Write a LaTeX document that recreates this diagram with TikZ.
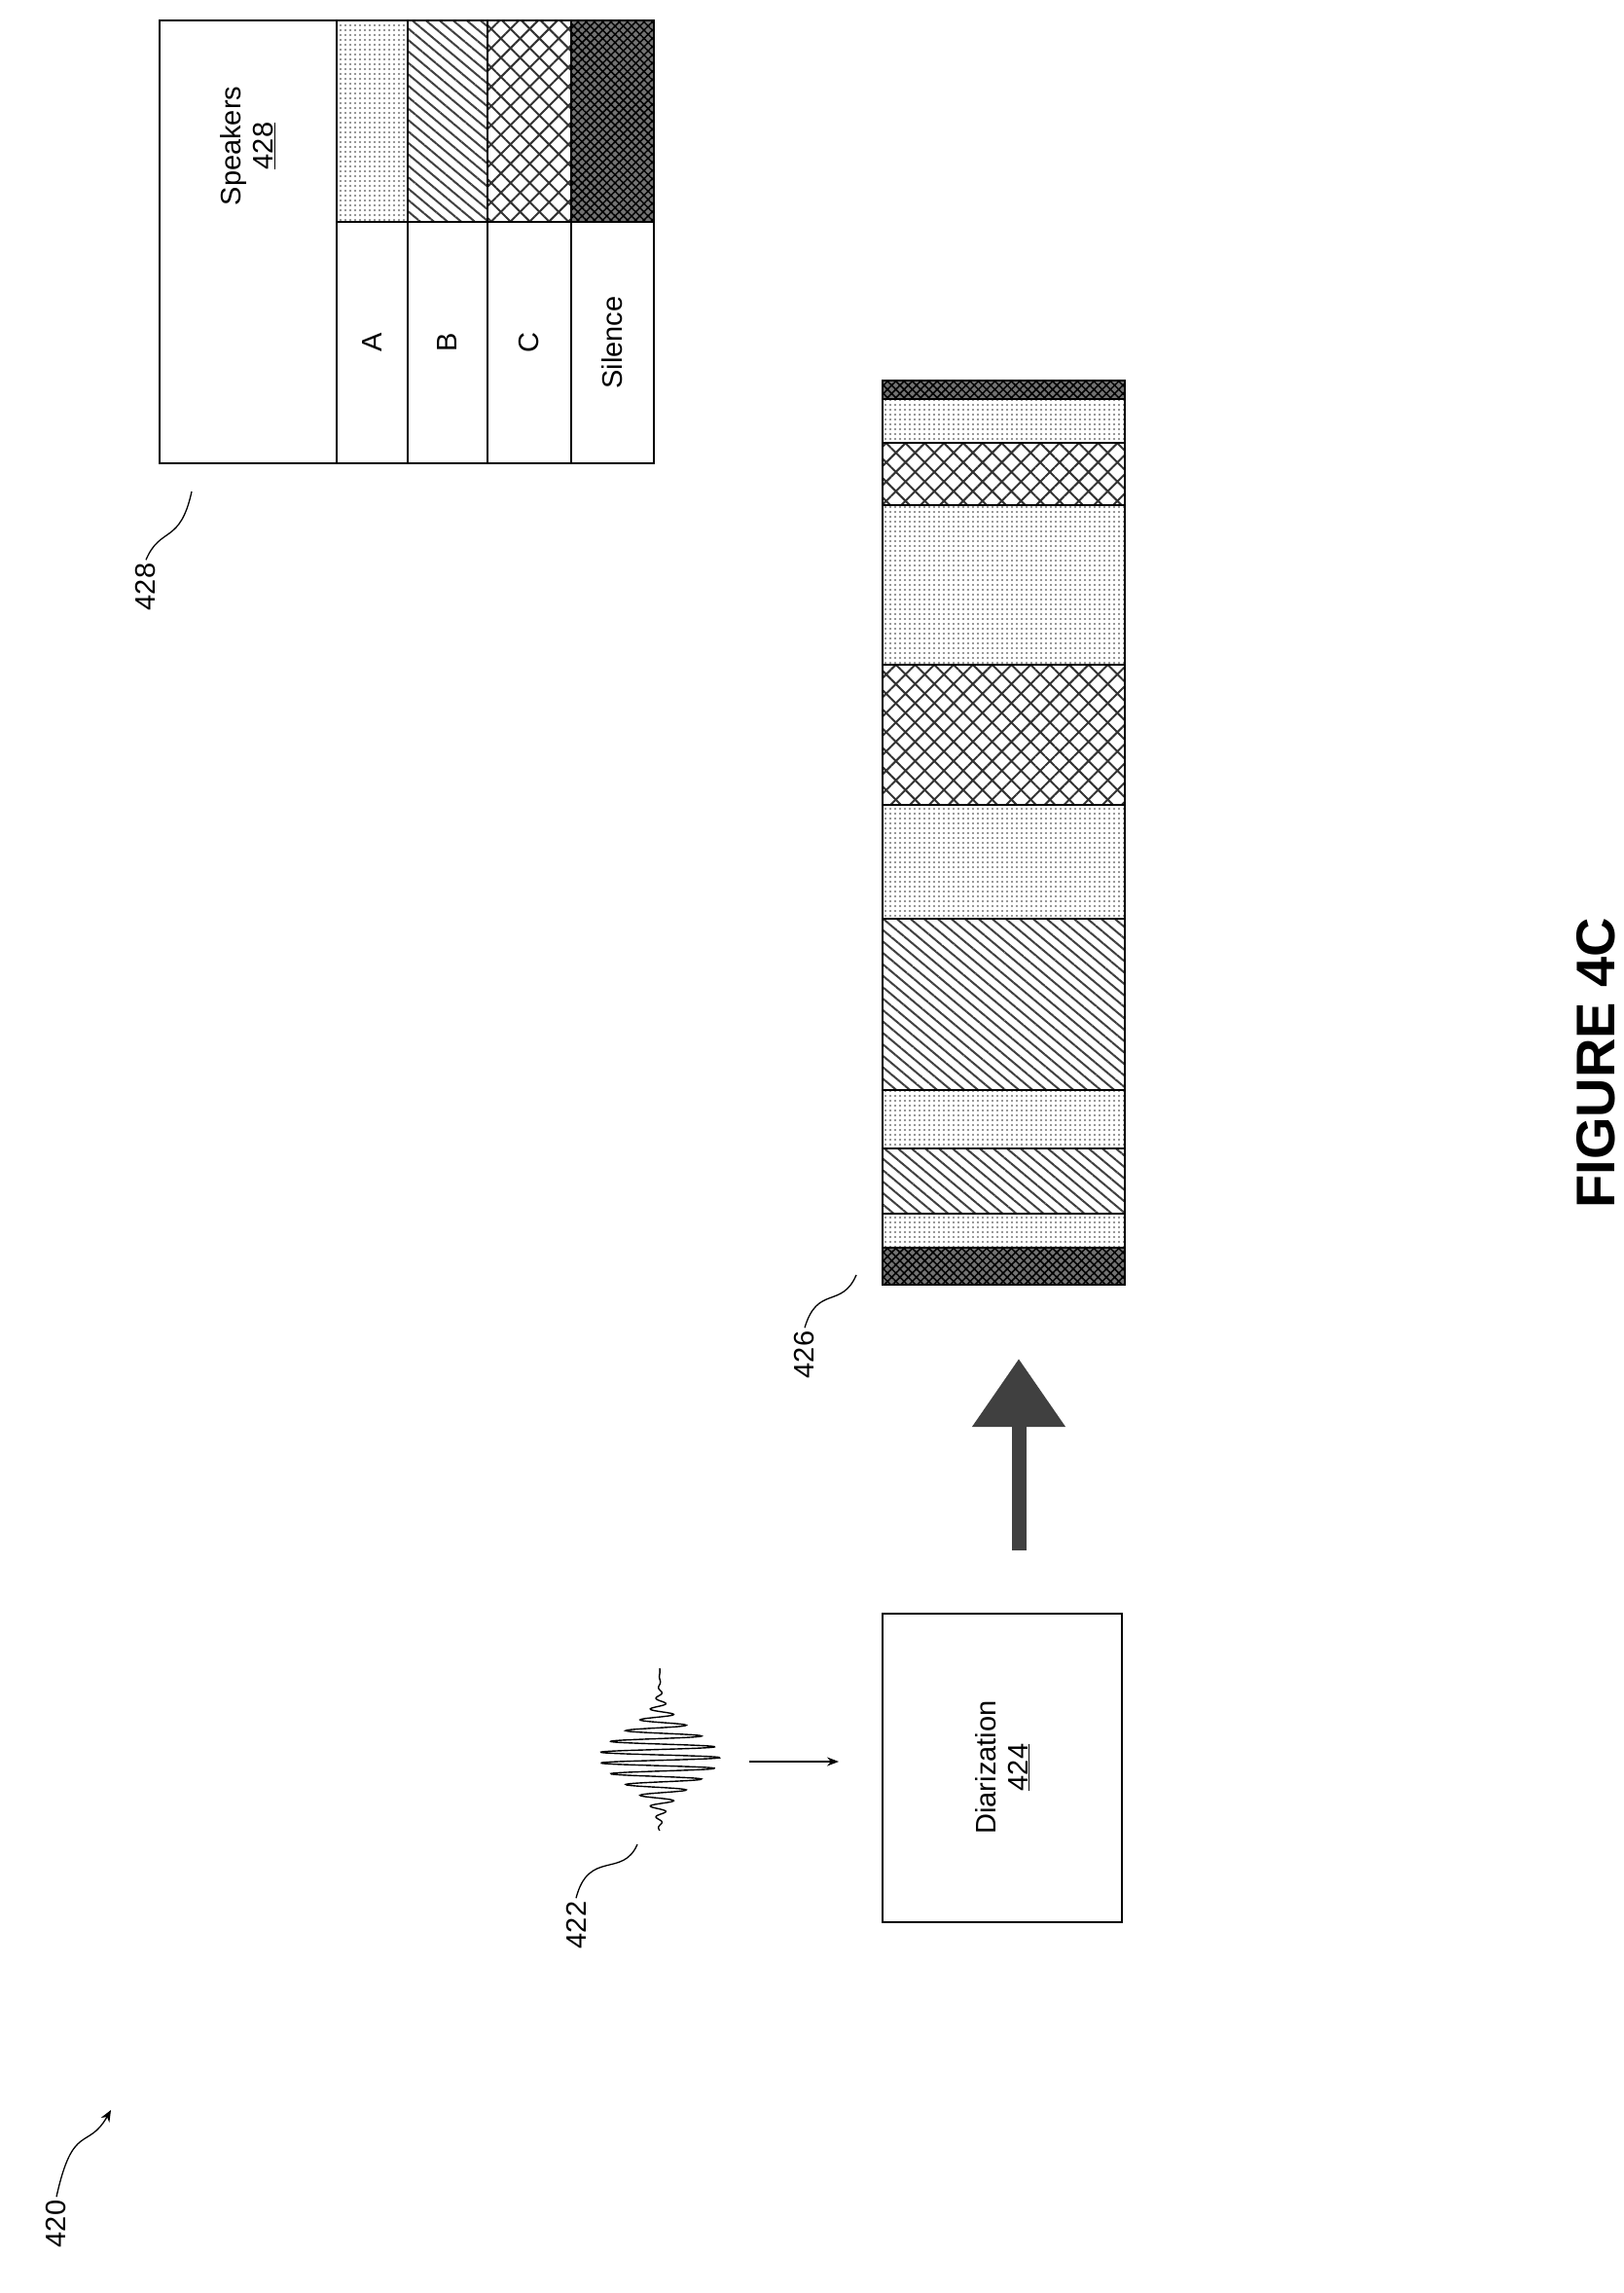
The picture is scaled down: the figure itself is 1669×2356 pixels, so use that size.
\documentclass[tikz,border=0pt]{standalone}
\usepackage{fontspec}
\setmainfont{Liberation Sans}
\usepackage{tikz}
\usetikzlibrary{patterns.meta,arrows.meta}
\tikzset{
	cell/.style={draw,line width=1.6pt},
	label text/.style={rotate=90,font=\fontsize{29}{33}\selectfont},
	spkA/.style={pattern={Dots[distance=5pt,radius=1.1pt]},pattern color=black!55},
	spkB/.style={pattern={Lines[angle=-40,distance=9pt,line width=2pt]},pattern color=black!75},
	spkC/.style={pattern={Hatch[angle=45,distance=14pt,line width=2pt]},pattern color=black!80},
	spkS/.style={preaction={fill=black!55},pattern={Hatch[angle=45,distance=6pt,line width=1.5pt]},pattern color=black},
	squig/.style={line width=1.3pt}
}
\begin{document}
\begin{tikzpicture}[x=1pt,y=-1pt]
	\useasboundingbox (0,0) rectangle (1669,2356);
	% speakers table
	\draw[cell] (164,21) rectangle (346,476);
	\node[label text,align=center] (spk) at (255,150) {Speakers\\\underline{428}};
	\foreach \xa/\xb/\st/\txt [count=\i] in {346/419/spkA/A,419/501/spkB/B,501/587/spkC/C,587/672/spkS/Silence}{
		\draw[cell,\st] (\xa,21) rectangle (\xb,228);
		\draw[cell] (\xa,228) rectangle (\xb,476);
		\node[label text] (row\i) at ({(\xa+\xb)/2},352) {\txt};
	}
	\coordinate (t428) at (197,505);
	\node[label text] (n428) at (150,603) {428};
	\draw[squig] (n428.east) .. controls (165,540) and (185,560) .. (t428);
	% diarization timeline
	\foreach \ya/\yb/\st in {391/410/spkS,410/455/spkA,455/519/spkC,519/683/spkA,683/827/spkC,827/944/spkA,944/1120/spkB,1120/1180/spkA,1180/1247/spkB,1247/1282/spkA,1282/1320/spkS}{
		\draw[cell,\st] (907,\ya) rectangle (1156,\yb);
	}
	\coordinate (t426) at (880,1310);
	\node[label text] (n426) at (827,1392) {426};
	\draw[squig] (n426.east) .. controls (840,1320) and (865,1345) .. (t426);
	% big arrow
	\coordinate (bigtail) at (1047,1593);
	\coordinate (bighead) at (1047,1396);
	\draw[line width=15pt,black!75,-{Triangle[width=92pt,length=70pt]}] (bigtail) -- (bighead);
	% diarization box
	\draw[cell] (907,1658) rectangle (1153,1975);
	\node[label text,align=center] (diar) at (1030,1816) {Diarization\\\underline{424}};
	% audio input
	\coordinate (wave) at (770,1810);
	\coordinate (diarin) at (862,1810);
	\draw[line width=1.4pt,domain=0:1,samples=300,smooth] plot ({678+62*exp(-((\x-0.55)/0.22)^2)*sin(\x*5400)},{1714+167*\x});
	\draw[line width=1.2pt,-{Stealth[length=12pt,width=9pt]}] (wave) -- (diarin);
	\coordinate (t422) at (655,1895);
	\node[label text] (n422) at (592,1978) {422};
	\draw[squig] (n422.east) .. controls (605,1900) and (640,1930) .. (t422);
	% figure number
	\node[label text] (n420) at (58,2285) {420};
	\coordinate (t420) at (114,2168);
	\draw[squig,-{Stealth[length=12pt,width=10pt]}] (n420.east) .. controls (75,2180) and (90,2210) .. (t420);
	\node[rotate=90,font=\fontsize{56}{60}\selectfont\bfseries] (fig) at (1640,1092) {FIGURE 4C};
\end{tikzpicture}
\end{document}
